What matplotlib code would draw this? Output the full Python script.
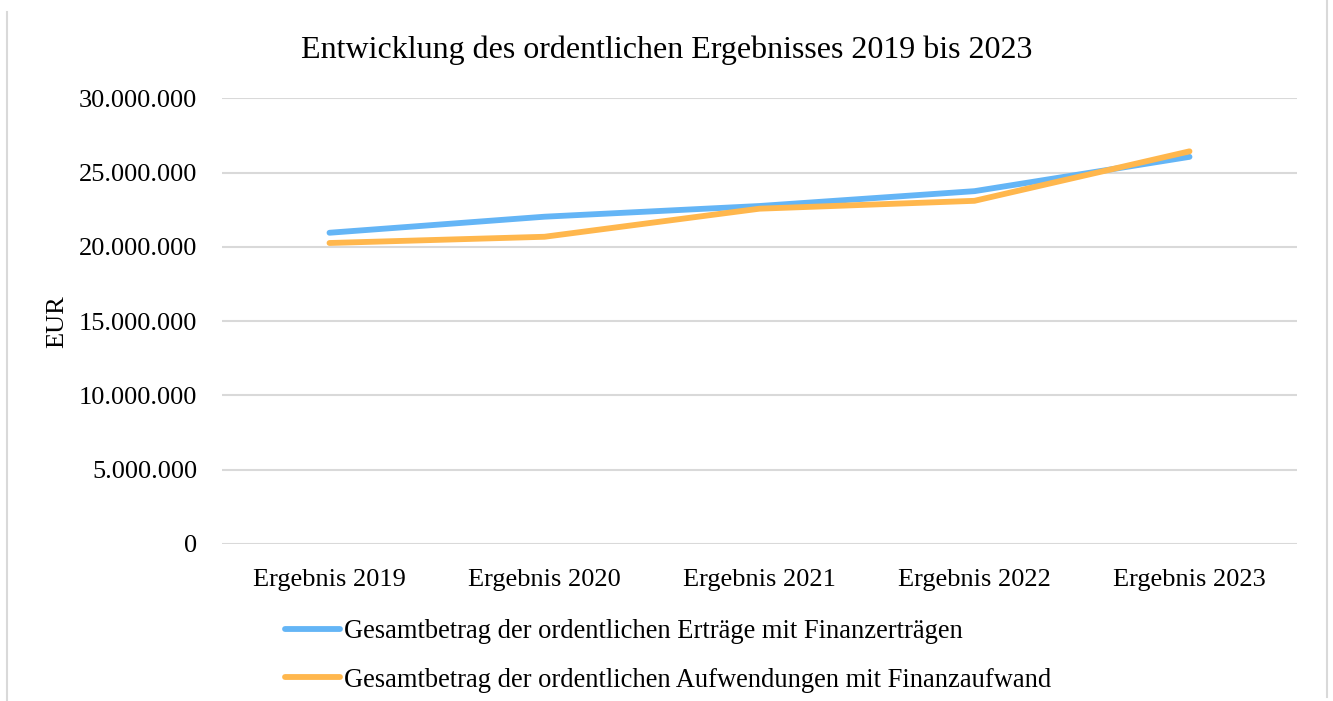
import matplotlib
matplotlib.use("Agg")
import matplotlib.pyplot as plt
from matplotlib.lines import Line2D
from matplotlib.ticker import FuncFormatter

# values (EUR)
categories = ["Ergebnis 2019", "Ergebnis 2020", "Ergebnis 2021", "Ergebnis 2022", "Ergebnis 2023"]
ertraege = [20950000, 22030000, 22750000, 23750000, 26060000]
aufwendungen = [20260000, 20680000, 22570000, 23100000, 26430000]
label_ertraege = "Gesamtbetrag der ordentlichen Erträge mit Finanzerträgen"
label_aufwendungen = "Gesamtbetrag der ordentlichen Aufwendungen mit Finanzaufwand"

plt.rcParams['font.family'] = ['Liberation Serif', 'DejaVu Serif']

fig = plt.figure(figsize=(13.33, 7.01), dpi=100)
ax = fig.add_axes([222/1333, 1-544/701, (1297-222)/1333, (544-98.3)/701])

x = list(range(len(categories)))
ax.plot(x, ertraege, color='#64B5F6', lw=4.2, solid_capstyle='round', label=label_ertraege)
ax.plot(x, aufwendungen, color='#FFB74D', lw=4.2, solid_capstyle='round', label=label_aufwendungen)

ax.set_xlim(-0.5, len(categories) - 0.5)
ax.set_ylim(0, 30000000)
ax.set_yticks(range(0, 30000001, 5000000))
# German thousands separator
ax.yaxis.set_major_formatter(FuncFormatter(lambda v, p: f"{int(v):,}".replace(",", ".")))
ax.set_xticks(x)
ax.set_xticklabels(categories)
ax.tick_params(length=0, labelsize=19, colors='black')
ax.tick_params(axis='y', pad=18)
ax.tick_params(axis='x', pad=18)
ax.grid(axis='y', color='#d9d9d9', lw=1.5)
ax.set_axisbelow(True)
for s in ax.spines.values():
    s.set_visible(False)

fig.text(57/1333, 1-322/701, "EUR", rotation=90, ha='center', va='center', fontsize=19)
fig.text(0.5, 1-50/701, "Entwicklung des ordentlichen Ergebnisses 2019 bis 2023",
         ha='center', va='center', fontsize=23)

ax.legend(loc='upper left', bbox_to_anchor=(285/1333, 1-619/701), bbox_transform=fig.transFigure,
          frameon=False, fontsize=19.1, handlelength=2.07, handletextpad=0.15,
          labelspacing=0.89, borderpad=0, borderaxespad=0)

# thin frame lines at the sides
fig.add_artist(Line2D([7/1333, 7/1333], [0, 1-12/701], color='#d9d9d9', lw=1.5))
fig.add_artist(Line2D([1327/1333, 1327/1333], [1-697/701, 1], color='#d9d9d9', lw=1.5))

fig.savefig("out.png", dpi=100)
